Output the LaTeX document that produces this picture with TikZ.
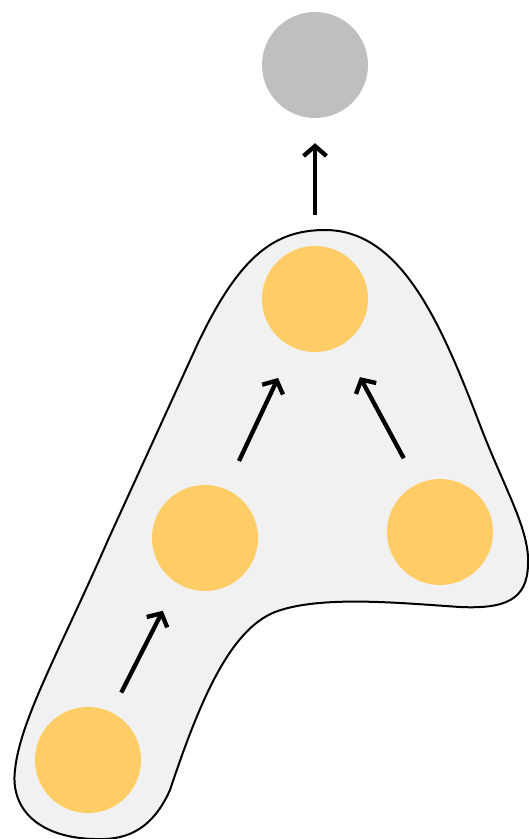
\documentclass[tikz,border=0pt]{standalone}
\usetikzlibrary{arrows.meta}
\definecolor{dotyellow}{HTML}{FFCC66}
\definecolor{dotgray}{HTML}{BFBFBF}
\definecolor{blobfill}{HTML}{F1F1F1}
\begin{document}
\begin{tikzpicture}[x=1pt,y=-1pt,
  dot/.style={circle,fill=dotyellow,draw=none,minimum size=106pt,inner sep=0pt},
  gdot/.style={circle,fill=dotgray,draw=none,minimum size=106pt,inner sep=0pt},
  link/.style={line width=4.3pt,-{Straight Barb[length=10pt,width=23pt]}}]
\useasboundingbox (0,0) rectangle (529,839);
\draw[fill=blobfill,line width=2pt]
 (325,230) .. controls (400,230) and (440,320) .. (480,425)
 .. controls (505,490) and (530,530) .. (528,565)
 .. controls (527,600) and (505,609) .. (460,607)
 .. controls (400,603) and (320,595) .. (275,612)
 .. controls (230,630) and (200,700) .. (170,790)
 .. controls (150,835) and (120,840) .. (95,839)
 .. controls (40,838) and (10,810) .. (15,770)
 .. controls (20,720) and (60,650) .. (108,540)
 -- (198,343)
 .. controls (240,255) and (275,230) .. cycle;
\node[gdot] (g) at (315,65) {};
\node[dot] (t) at (315,299) {};
\node[dot] (m) at (205,538) {};
\node[dot] (r) at (440,532) {};
\node[dot] (b) at (88,760) {};
\draw[link,shorten <=31pt,shorten >=25pt] (t.north) -- (g.south);
\draw[link,shorten <=31pt,shorten >=34pt] (m.67.7) -- (t.245);
\draw[link,shorten <=29pt,shorten >=37pt] (r.115.9) -- (t.301.4);
\draw[link,shorten <=22pt,shorten >=31pt] (b.64.8) -- (m.238.6);
\end{tikzpicture}
\end{document}
